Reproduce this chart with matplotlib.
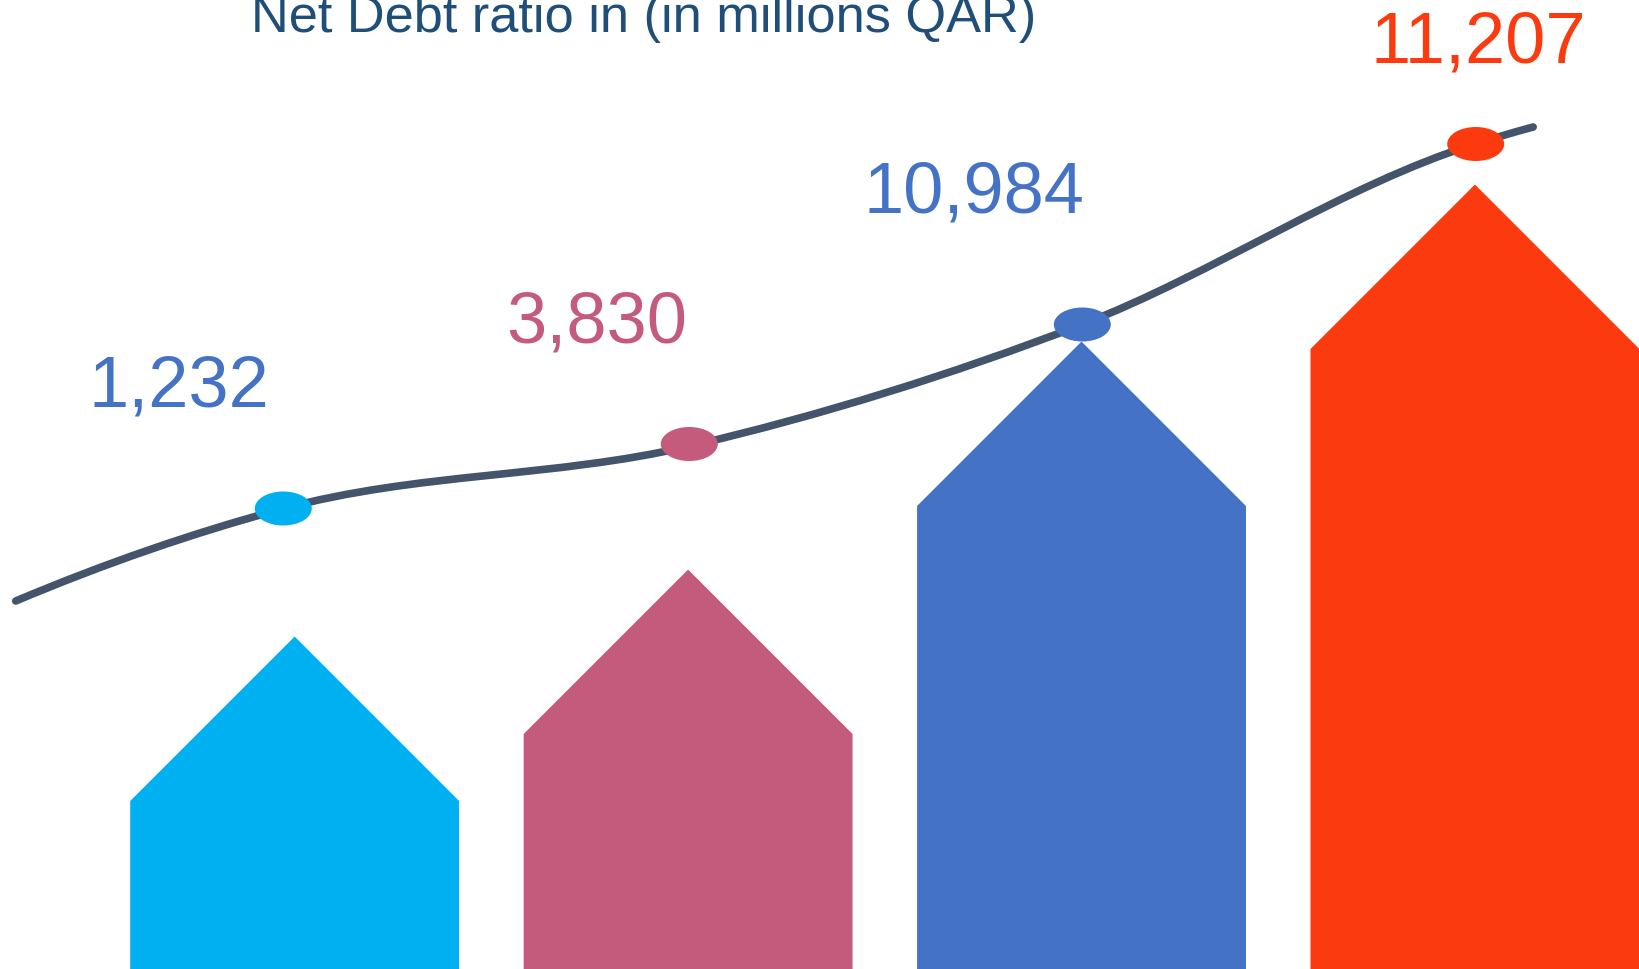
import matplotlib
matplotlib.use("Agg")
import matplotlib.pyplot as plt
from matplotlib.patches import Ellipse, PathPatch, Polygon
from matplotlib.path import Path

# values printed on the chart (millions QAR)
values = [1232, 3830, 10984, 11207]
# drawn shoulder heights of the house-shaped bars (not to scale)
bar_heights = [168, 235, 463, 620]
bar_colors = ["#00B0F0", "#C45A7C", "#4472C4", "#FC3A10"]

# decorative trend line, key points
line_x = [-0.709, -0.033, 1.005, 1.998, 3.000, 3.148]
line_y = [368, 460, 523, 644, 825, 842]

# oval markers sitting on the line
marker_x = [-0.029, 1.003, 2.002, 3.002]
marker_y = [460.5, 525, 644.5, 825]

# label anchors (x, baseline y)
label_x = [-0.294, 0.768, 1.727, 3.008]
label_y = [563, 628, 757, 908]
label_colors = ["#4472C4", "#C45A7C", "#4472C4", "#FC3A10"]

W, H = 1639, 970
fig = plt.figure(figsize=(W / 100, H / 100), dpi=100)
ax = fig.add_axes([0, 0, 1, 1])
xlim = (-0.749, 3.417)
ylim = (0, 970)
ax.set_xlim(*xlim)
ax.set_ylim(*ylim)
ax.axis("off")

px_x = W / (xlim[1] - xlim[0])
px_y = H / (ylim[1] - ylim[0])
half = 0.418
roof = half * px_x / px_y  # 45 degree roof

for i, (h, c) in enumerate(zip(bar_heights, bar_colors)):
    pts = [(i - half, ylim[0]), (i - half, h), (i, h + roof),
           (i + half, h), (i + half, ylim[0])]
    ax.add_patch(Polygon(pts, closed=True, facecolor=c, edgecolor="none", zorder=1))

# smooth line through the key points (cubic Hermite drawn as beziers,
# slopes from the three-point formula for uneven spacing)
n = len(line_x)
h = [line_x[k + 1] - line_x[k] for k in range(n - 1)]
d = [(line_y[k + 1] - line_y[k]) / h[k] for k in range(n - 1)]
slopes = [((2 * h[0] + h[1]) * d[0] - h[0] * d[1]) / (h[0] + h[1])]
for k in range(1, n - 1):
    slopes.append((h[k] * d[k - 1] + h[k - 1] * d[k]) / (h[k - 1] + h[k]))
slopes.append(((2 * h[-1] + h[-2]) * d[-1] - h[-1] * d[-2]) / (h[-1] + h[-2]))

verts = [(line_x[0], line_y[0])]
codes = [Path.MOVETO]
for k in range(n - 1):
    dx = h[k] / 3
    verts += [(line_x[k] + dx, line_y[k] + dx * slopes[k]),
              (line_x[k + 1] - dx, line_y[k + 1] - dx * slopes[k + 1]),
              (line_x[k + 1], line_y[k + 1])]
    codes += [Path.CURVE4] * 3
ax.add_patch(PathPatch(Path(verts, codes), facecolor="none", edgecolor="#44546A",
                       lw=5.5, capstyle="round", zorder=2))

ew = 57 / px_x
eh = 34 / px_y
for x, y, c in zip(marker_x, marker_y, bar_colors):
    ax.add_patch(Ellipse((x, y), ew, eh, facecolor=c, edgecolor="none", zorder=3))

for x, y, v, c in zip(label_x, label_y, values, label_colors):
    ax.text(x, y, f"{v:,}", color=c, fontsize=52, family="Liberation Sans",
            ha="center", va="baseline", zorder=4)

title = fig.text(251 / W, 1 - 32 / H, "Net Debt ratio in (in millions QAR)",
                 color="#1F4E79", fontsize=30, family="Liberation Sans",
                 ha="left", va="baseline")
r = fig.canvas.get_renderer()
w = title.get_window_extent(r).width
title.set_fontsize(30 * 784 / w)

fig.savefig("out.png", dpi=100)
